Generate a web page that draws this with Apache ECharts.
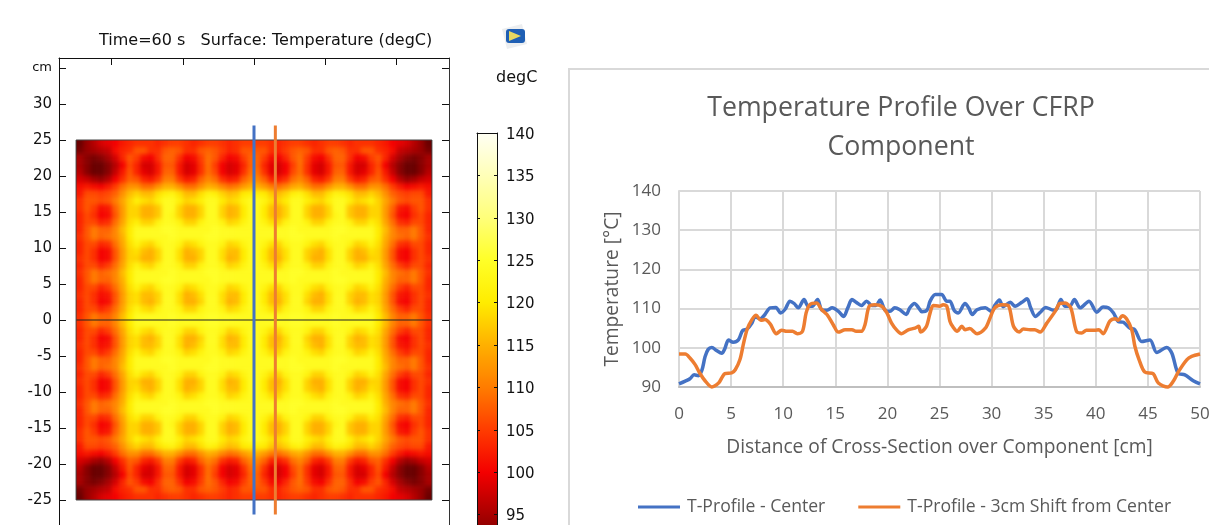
<!DOCTYPE html>
<html><head><meta charset="utf-8">
<style>html,body{margin:0;padding:0;background:#fff;overflow:hidden}#c{width:1209px;height:525px}
canvas[data-zr-dom-id="zr_1"]{filter:blur(2.2px);clip-path:inset(140px 777px 25px 76px)}</style>
<script src="https://cdn.jsdelivr.net/npm/echarts@6/dist/echarts.min.js"></script>
</head><body><div id="c"></div>
<script>
// Profile chart (x in cm, y in degC)
const centerX=[0,0.6,1.05,1.45,1.85,2.2,2.5,2.8,3.15,3.6,4.1,4.4,4.75,5.2,5.7,6.1,6.55,7,7.3,7.8,8.25,8.75,9.3,9.75,10.2,10.65,11.05,11.45,12,12.4,12.8,13.3,13.7,14.2,14.7,15.3,15.8,16.2,16.6,17,17.5,18,18.5,18.9,19.3,19.75,20.25,20.7,21.2,21.8,22.15,22.6,23,23.3,23.8,24.1,24.6,25.2,25.7,26,26.4,26.8,27.45,27.8,28.15,28.6,29.4,30,30.3,30.75,31.1,31.8,32.25,32.9,33.4,33.75,34.2,34.65,35.2,35.95,36.25,36.65,37.05,37.5,37.95,38.5,39.35,40.1,40.7,41.2,41.7,42.15,42.65,43.3,43.75,44.4,45.2,45.85,46.8,47.3,47.9,48.55,49.35,50];
const centerT=[90.8,91.5,92.1,93.1,92.9,94.3,97.7,99.6,100.1,99.3,98.6,99.8,102,101.4,102,104.4,104.8,106.3,107.9,107.4,108.5,110.2,110.3,108.9,109.9,111.9,111.3,110.2,112.3,110.6,110.6,112.3,109.7,109.6,110.2,109.3,108,110.2,112.3,111.6,110.8,111.9,110.8,110.8,112.2,109.7,109.3,110.2,109.7,108.5,110.2,111.3,110.2,109.2,109.6,111.9,113.6,113.6,111.9,111.9,109.6,108.9,111.3,110.2,108.5,109.7,110.2,109.2,110.8,112.2,110.5,111.6,110.6,111.6,112.5,110.2,108,109,110.3,109.6,109.9,112.3,110.6,110.6,112.3,110.2,111.9,109.1,110.4,110.2,108.9,106.7,106.5,105,104.6,101.6,102,98.8,100.1,98.6,93.5,93.1,91.6,90.8];
const shiftX=[0,0.6,1.05,1.55,2,2.5,3.15,3.8,4.1,4.4,5.05,5.4,5.85,6.2,6.55,7,7.4,7.85,8.25,8.75,9.35,9.85,10.35,10.9,11.35,11.85,12.2,12.55,13.2,13.7,14.2,14.8,15.3,15.95,16.6,17,17.5,17.85,18.25,18.8,19.45,19.95,20.4,20.9,21.35,22,22.65,23,23.2,23.75,24.1,24.4,25,25.35,25.7,26,26.3,26.7,27.15,27.45,27.9,28.6,29.4,29.85,30.3,31,31.6,32.1,32.65,33.05,33.7,34.15,34.65,35.3,36.1,36.55,37.05,37.6,38.15,38.65,39.1,39.9,40.3,40.7,41.35,41.85,42.15,42.55,42.95,43.45,43.75,44.15,44.7,45.5,46,46.9,47.45,47.95,48.75,49.2,50];
const shiftT=[98.4,98.4,97.4,95.7,93.5,91.6,90,91,92.3,93.4,93.6,94.4,97,101.2,104.8,107.2,108.3,107,107.2,106.1,103.6,104.5,104.2,104.2,103.6,104.2,108.9,111,111.4,109.7,108.5,105.9,104,104.6,104.6,104.2,104.2,105.9,110.6,111,110.6,108.9,106.3,104.5,103.6,104.6,105,105.5,104,105.5,108.9,110.8,110.6,111,110.6,106.8,105.3,104.2,105.5,104.6,104.9,103.6,105,107.6,110.2,111,110.8,105.5,104,104.8,104.6,104.6,104,106.3,109.3,111.3,111.4,110.2,104.2,103.8,104.5,104.5,104.6,103.6,106.8,107.4,107,108.2,107.4,104.6,100.4,97,93.8,93.4,91,90,91.5,94,97,97.8,98.4];

// Surface temperature, one quadrant as read (rows y=24.5..0.5, columns x=0.5..24.5 cm from centre)
const surfaceQuadrant=[
[105,105,104,103,104,105,105,104,103,104,105,105,104,103,104,104,104,103,102,100,99,98,96,94,91],
[107,107,104,103,105,107,108,107,104,104,107,108,107,104,104,107,107,104,103,101,97,96,95,94,92],
[108,105,101,100,103,107,109,105,101,100,104,108,108,104,100,101,105,107,103,98,95,93,92,93,95],
[108,103,99,98,100,105,109,104,99,98,102,107,107,102,98,98,103,106,100,96,93,91,91,93,95],
[109,104,99,98,100,106,109,104,99,98,102,108,108,102,98,99,103,107,102,97,93,91,91,93,96],
[111,108,103,102,104,109,111,108,103,102,105,110,110,105,102,103,107,108,104,100,96,94,95,97,98],
[115,113,110,109,111,114,115,112,109,109,112,115,115,112,109,109,112,112,109,105,102,100,101,102,101],
[121,120,117,116,118,121,122,119,116,116,119,122,121,119,116,116,118,116,112,108,106,105,106,106,102],
[124,122,119,118,120,124,124,121,119,118,121,124,124,121,118,119,121,118,114,110,107,106,107,107,104],
[124,120,116,115,118,124,124,118,115,115,118,124,124,117,115,115,118,118,113,108,102,101,105,107,104],
[124,120,116,115,118,124,124,118,115,115,118,123,124,117,115,115,118,118,113,107,101,100,104,106,103],
[124,122,119,118,122,124,124,122,118,118,122,124,124,122,118,118,121,119,114,109,104,103,106,106,103],
[124,124,124,124,124,125,124,124,124,124,124,125,125,124,124,124,124,120,116,111,108,108,110,107,103],
[124,124,124,124,124,125,125,124,124,124,124,125,124,124,124,124,124,120,115,111,109,108,110,107,104],
[124,122,119,118,122,124,124,122,119,118,122,124,124,122,118,119,122,119,114,109,104,103,106,106,103],
[124,120,116,116,119,124,124,118,116,115,119,124,124,118,115,116,119,118,113,107,101,100,104,106,103],
[124,120,116,115,119,124,124,118,115,115,119,124,124,118,115,115,118,118,113,107,101,100,104,106,104],
[124,122,119,118,122,124,124,122,118,118,122,124,124,122,118,119,122,119,114,109,105,103,106,106,103],
[124,124,124,124,124,125,125,124,124,124,124,125,124,124,124,124,124,120,116,111,109,108,110,107,104],
[124,124,124,124,124,125,124,124,124,124,124,125,125,124,124,124,124,120,115,111,108,108,110,107,103],
[124,122,119,118,122,124,124,122,119,118,122,124,124,122,118,119,122,119,114,109,105,103,106,106,103],
[124,120,116,116,119,124,124,119,116,115,119,124,124,118,116,116,119,118,113,107,102,101,104,106,104],
[124,120,116,115,119,124,124,118,115,115,119,124,124,118,115,116,119,118,113,107,101,100,104,106,103],
[124,122,119,118,122,124,124,122,118,118,122,124,124,122,118,119,122,119,114,109,105,103,106,106,103],
[124,124,124,124,124,125,125,124,124,124,124,125,124,124,124,124,124,120,116,111,108,108,110,107,104]
];

// Tick labels and text
const frameYTicks=[-35,-30,-25,-20,-15,-10,-5,0,5,10,15,20,25,30,35];
const frameXTicks=[-20,-10,0,10,20];
const barTicks=[95,100,105,110,115,120,125,130,135,140];
const barStops=['#5a0000','#a80000','#f40000','#ff3c00','#ff7c00','#ffb000','#ffec00','#ffff28','#ffff7a','#ffffb8','#fffff4'];
const axisSpan=27.4, plateEdge=25, lineTop=27, lineBottom=-27, shiftPos=3;
const blue='#4472c4', orange='#ed7d31', gray='#595959', gridGray='#d9d9d9';
const ui='"Open Sans",sans-serif', sci='"DejaVu Sans",sans-serif';

// The quadrant is mirrored into all four corners; one extra ring repeats the edge values
// so the soft edge of the blurred layer stays outside the plate.
const n=surfaceQuadrant.length;
const cells=[];
for(let r=-1;r<n;r++){
  for(let c=0;c<=n;c++){
    const v=surfaceQuadrant[Math.max(r,0)][Math.min(c,n-1)];
    [n-c,n+1+c].forEach(cx=>{[2*n-r,r+1].forEach(cy=>cells.push([cx,cy,v]));});
  }
}
const cats=Array.from({length:2*n+2},(_,i)=>String(i));

const chart=echarts.init(document.getElementById('c'),null,{renderer:'canvas'});
chart.setOption({
 animation:false,backgroundColor:'transparent',
 title:[
  {text:'Time=60 s   Surface: Temperature (degC)',left:99,top:33,padding:0,textStyle:{fontFamily:sci,fontSize:16,fontWeight:'normal',color:'#111'}},
  {text:'degC',left:496,top:70,padding:0,textStyle:{fontFamily:sci,fontSize:16,fontWeight:'normal',color:'#111'}},
  {text:'Temperature Profile Over CFRP\nComponent',left:901,textAlign:'center',top:89,padding:0,textStyle:{fontFamily:ui,fontSize:26.7,lineHeight:39,fontWeight:'normal',color:gray}}
 ],
 grid:[
  {left:59,top:58,width:390,height:524,outerBoundsMode:'none'},
  {left:68.88,top:132.8,width:370.24,height:374.4,outerBoundsMode:'none'},
  {left:477,top:133,width:20,height:424,outerBoundsMode:'none'},
  {left:679,top:191,width:521,height:196,outerBoundsMode:'none'},
  {left:477,top:135,width:20,height:424,outerBoundsMode:'none'}
 ],
 xAxis:[
  {gridIndex:0,type:'value',position:'top',min:-axisSpan,max:axisSpan,axisLabel:{show:false},splitLine:{show:false},
   axisLine:{onZero:false,lineStyle:{color:'#111'}},axisTick:{inside:true,length:7,customValues:frameXTicks,lineStyle:{color:'#111'}}},
  {gridIndex:1,type:'category',data:cats,show:false},
  {gridIndex:2,type:'value',position:'top',min:0,max:1,z:10,axisLabel:{show:false},splitLine:{show:false},axisTick:{show:false},
   axisLine:{onZero:false,lineStyle:{color:'#111'}}},
  {gridIndex:3,type:'value',min:0,max:50,interval:5,
   name:'Distance of Cross-Section over Component [cm]',nameLocation:'middle',nameGap:51,nameTextStyle:{fontFamily:ui,fontSize:19.2,color:gray},
   axisLabel:{fontFamily:ui,fontSize:17,color:gray,margin:19},axisTick:{show:false},
   axisLine:{lineStyle:{color:'#bfbfbf',width:2}},splitLine:{lineStyle:{color:gridGray,width:2}}},
  {gridIndex:4,type:'value',min:0,max:1,show:false}
 ],
 yAxis:[
  {gridIndex:0,type:'value',position:'left',min:-36.39,max:36.39,splitLine:{show:false},
   axisLine:{onZero:false,lineStyle:{color:'#111'}},axisTick:{inside:true,length:7,customValues:frameYTicks,lineStyle:{color:'#111'}},
   axisLabel:{customValues:frameYTicks,fontFamily:sci,fontSize:15,color:'#111',margin:7,showMinLabel:true,showMaxLabel:true,
    formatter:v=>v===35?'{u|cm}':String(v),rich:{u:{fontFamily:sci,fontSize:13,color:'#111'}}}},
  {gridIndex:0,type:'value',position:'right',min:-36.39,max:36.39,splitLine:{show:false},axisLabel:{show:false},
   axisLine:{onZero:false,lineStyle:{color:'#333'}},axisTick:{inside:true,length:7,customValues:frameYTicks,lineStyle:{color:'#111'}}},
  {gridIndex:1,type:'category',data:cats,show:false},
  {gridIndex:2,type:'value',position:'right',min:90,max:140,z:10,splitLine:{show:false},axisLabel:{show:false},
   axisLine:{onZero:false,lineStyle:{color:'#111'}},axisTick:{inside:true,length:3,customValues:barTicks,lineStyle:{color:'#111'}}},
  {gridIndex:2,type:'value',position:'left',min:90,max:140,z:10,splitLine:{show:false},axisLabel:{show:false},
   axisLine:{onZero:false,lineStyle:{color:'#111'}},axisTick:{inside:true,length:3,customValues:barTicks,lineStyle:{color:'#111'}}},
  {gridIndex:3,type:'value',min:90,max:140,interval:10,
   name:'Temperature [°C]',nameLocation:'middle',nameGap:57,nameTextStyle:{fontFamily:ui,fontSize:19.2,color:gray},
   axisLabel:{fontFamily:ui,fontSize:17,color:gray,margin:18},axisTick:{show:false},
   axisLine:{show:true,lineStyle:{color:gridGray,width:2}},splitLine:{lineStyle:{color:gridGray,width:2}}},
  {gridIndex:4,type:'value',position:'right',min:90,max:140,z:10,splitLine:{show:false},axisLine:{show:false},axisTick:{show:false},
   axisLabel:{customValues:barTicks,fontFamily:sci,fontSize:15,color:'#111',margin:9}}
 ],
 visualMap:{type:'continuous',seriesIndex:0,dimension:2,min:90,max:140,left:477,top:133,itemWidth:20,itemHeight:424,padding:0,
  calculable:false,hoverLink:false,text:null,showLabel:false,inRange:{color:barStops}},
 legend:{left:638,top:498,icon:'rect',itemWidth:42,itemHeight:3,itemGap:33,padding:0,selectedMode:false,
  data:['T-Profile - Center','T-Profile - 3cm Shift from Center'],
  textStyle:{fontFamily:ui,fontSize:17.6,color:gray,padding:[0,0,0,2]}},
 series:[
  {type:'heatmap',xAxisIndex:1,yAxisIndex:2,data:cells,silent:true,progressive:0,zlevel:1,emphasis:{disabled:true}},
  {type:'line',xAxisIndex:0,yAxisIndex:0,silent:true,symbol:'none',lineStyle:{color:'#222',width:1},z:3,zlevel:2,
   data:[[-plateEdge,0],[plateEdge,0]]},
  {type:'line',xAxisIndex:0,yAxisIndex:0,silent:true,symbol:'none',lineStyle:{color:'#444',width:1},z:3,zlevel:2,
   data:[[-plateEdge,plateEdge],[plateEdge,plateEdge],[plateEdge,-plateEdge],[-plateEdge,-plateEdge],[-plateEdge,plateEdge]]},
  {type:'line',xAxisIndex:0,yAxisIndex:0,silent:true,symbol:'none',lineStyle:{color:blue,width:3},z:4,zlevel:2,
   data:[[0,lineTop],[0,lineBottom]]},
  {type:'line',xAxisIndex:0,yAxisIndex:0,silent:true,symbol:'none',lineStyle:{color:orange,width:3},z:4,zlevel:2,
   data:[[shiftPos,lineTop],[shiftPos,lineBottom]]},
  {type:'line',name:'T-Profile - Center',xAxisIndex:3,yAxisIndex:5,symbol:'none',smooth:0.3,clip:false,
   itemStyle:{color:blue},lineStyle:{color:blue,width:3.5},data:centerX.map((x,i)=>[x,centerT[i]])},
  {type:'line',name:'T-Profile - 3cm Shift from Center',xAxisIndex:3,yAxisIndex:5,symbol:'none',smooth:0.3,clip:false,
   itemStyle:{color:orange},lineStyle:{color:orange,width:3.5},data:shiftX.map((x,i)=>[x,shiftT[i]])}
 ],
 graphic:[
  {type:'rect',z:-1,shape:{x:569,y:69,width:800,height:600},style:{fill:'#fff',stroke:gridGray,lineWidth:2},silent:true},
  {type:'polygon',shape:{points:[[502,29],[522,24],[527,44],[507,49]]},style:{fill:'#eceef0'},silent:true},
  {type:'rect',shape:{x:506,y:29,width:19,height:14,r:3},style:{fill:'#1f5fb4'},silent:true},
  {type:'polygon',shape:{points:[[509,31],[521,36],[509,41]]},style:{fill:'#e8d860'},silent:true}
 ]
});
</script></body></html>
